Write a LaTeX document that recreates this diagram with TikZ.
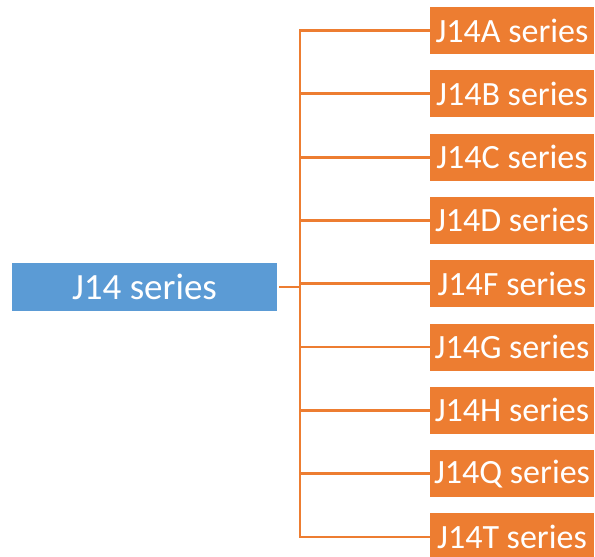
\documentclass[tikz,border=0pt]{standalone}
\usepackage{fontspec}
\setmainfont{Carlito}
\definecolor{orng}{HTML}{ED7D31}
\definecolor{blu}{HTML}{5B9BD5}
\begin{document}
\begin{tikzpicture}[x=1pt,y=-1pt,
  leaf/.style={fill=orng,text=white,inner sep=0pt,minimum width=164pt,minimum height=47pt,font=\fontsize{34}{38}\selectfont},
  rootbox/.style={fill=blu,text=white,inner sep=0pt,minimum width=265pt,minimum height=48pt,font=\fontsize{37}{41}\selectfont},
  conn/.style={draw=orng,line width=2.8pt}]
\useasboundingbox (0,0) rectangle (595,557);
\node[rootbox] (root) at (144.5,287) {J14 series};
\coordinate (j) at (300,287);
\foreach \n/\t [count=\i from 0] in {a/A,b/B,c/C,d/D,f/F,g/G,h/H,q/Q,t/T}{
  \node[leaf] (\n) at (512,30.5+63.3*\i) {J14\t\ series};
  \draw[conn] (j) |- (\n.west);
}
\draw[conn] ([xshift=2pt]root.east) -- (j);
\end{tikzpicture}
\end{document}
